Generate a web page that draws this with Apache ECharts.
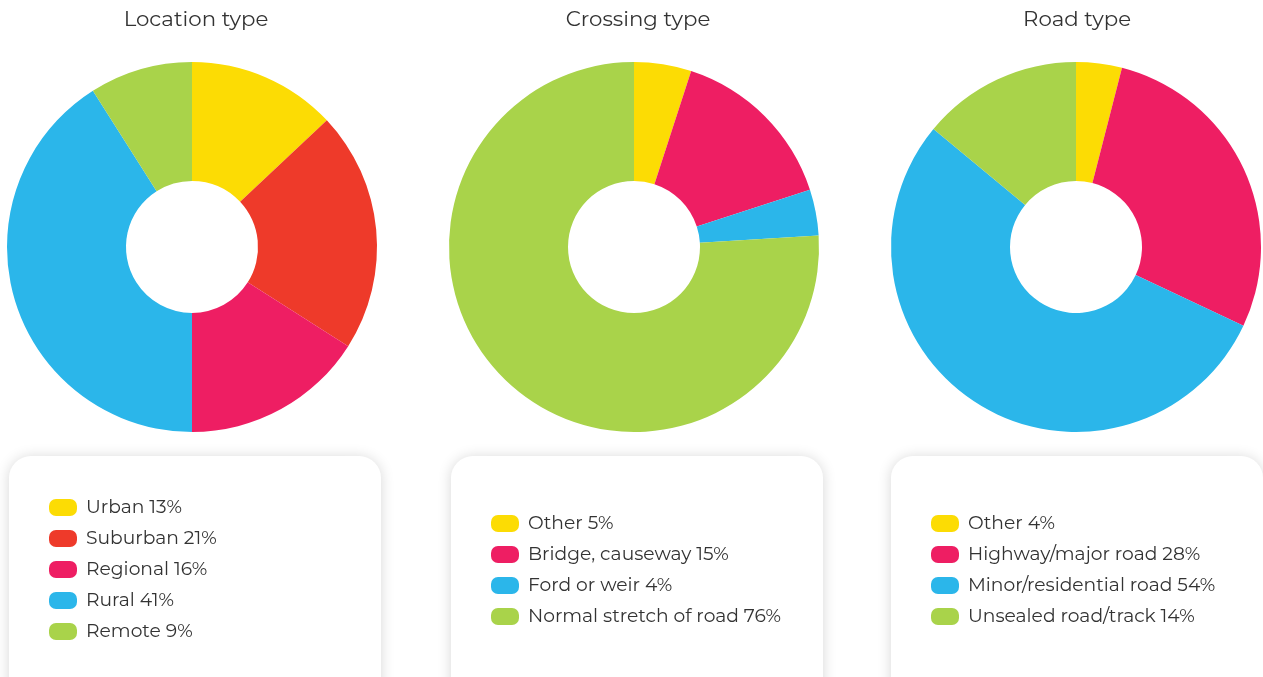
<!DOCTYPE html>
<html>
<head>
<meta charset="utf-8">
<script src="https://cdn.jsdelivr.net/npm/echarts@6/dist/echarts.min.js"></script>
<style>
  html, body { margin: 0; padding: 0; background: #fff; }
  #chart { width: 1263px; height: 677px; }
</style>
</head>
<body>
<div id="chart"></div>
<script>
  // data
  const titles = ['Location type', 'Crossing type', 'Road type']

  const locationNames = ['Urban', 'Suburban', 'Regional', 'Rural', 'Remote']
  const locationValues = [13, 21, 16, 41, 9]

  const crossingNames = ['Other', 'Bridge, causeway', 'Ford or weir', 'Normal stretch of road']
  const crossingValues = [5, 15, 4, 76]

  const roadNames = ['Other', 'Highway/major road', 'Minor/residential road', 'Unsealed road/track']
  const roadValues = [4, 28, 54, 14]

  const colors = {
    yellow: '#fcdc04',
    red: '#ee3a2a',
    pink: '#ee1e63',
    blue: '#2bb6ea',
    green: '#a9d34a'
  }
  const locationColors = [colors.yellow, colors.red, colors.pink, colors.blue, colors.green]
  const fourColors = [colors.yellow, colors.pink, colors.blue, colors.green]

  const font = 'Montserrat, "Open Sans", sans-serif'
  const centersX = [192, 634, 1076]
  const titleX = [196, 638, 1077]
  const boxLeft = [9, 451, 891]

  // pill shaped legend marker
  const pill = 'path://M7,0 H21 A7,7 0 0 1 28,7 V10 A7,7 0 0 1 21,17 H7 A7,7 0 0 1 0,10 V7 A7,7 0 0 1 7,0 Z'

  const groups = [
    { names: locationNames, values: locationValues, colors: locationColors, legendTop: 498 },
    { names: crossingNames, values: crossingValues, colors: fourColors, legendTop: 514 },
    { names: roadNames, values: roadValues, colors: fourColors, legendTop: 514 }
  ]

  const chart = echarts.init(document.getElementById('chart'))

  const option = {
    animation: false,
    title: titles.map((t, i) => ({
      text: t,
      left: titleX[i],
      top: 9,
      padding: 0,
      textAlign: 'center',
      textStyle: { fontFamily: font, fontSize: 21.3, fontWeight: 'normal', color: '#333' }
    })),
    graphic: boxLeft.map((x) => ({
      type: 'rect',
      z: -10,
      shape: { x: x, y: 456, width: 372, height: 260, r: 22 },
      style: {
        fill: '#fff',
        shadowBlur: 14,
        shadowColor: 'rgba(0,0,0,0.16)',
        shadowOffsetY: 1
      }
    })),
    legend: groups.map((g, i) => ({
      orient: 'vertical',
      left: boxLeft[i] + 40,
      top: g.legendTop,
      padding: 0,
      data: g.names,
      icon: pill,
      itemWidth: 28,
      itemHeight: 17,
      itemGap: 12,
      selectedMode: false,
      formatter: (name) => name + ' ' + g.values[g.names.indexOf(name)] + '%',
      textStyle: { fontFamily: font, fontSize: 18.7, color: '#333', padding: [0, 0, 0, 4] }
    })),
    series: groups.map((g, i) => ({
      type: 'pie',
      center: [centersX[i], 247],
      radius: [66, 185],
      startAngle: 90,
      clockwise: true,
      label: { show: false },
      labelLine: { show: false },
      emphasis: { disabled: true },
      data: g.names.map((n, k) => ({
        name: n,
        value: g.values[k],
        itemStyle: { color: g.colors[k] }
      }))
    }))
  }

  chart.setOption(option)
</script>
</body>
</html>
